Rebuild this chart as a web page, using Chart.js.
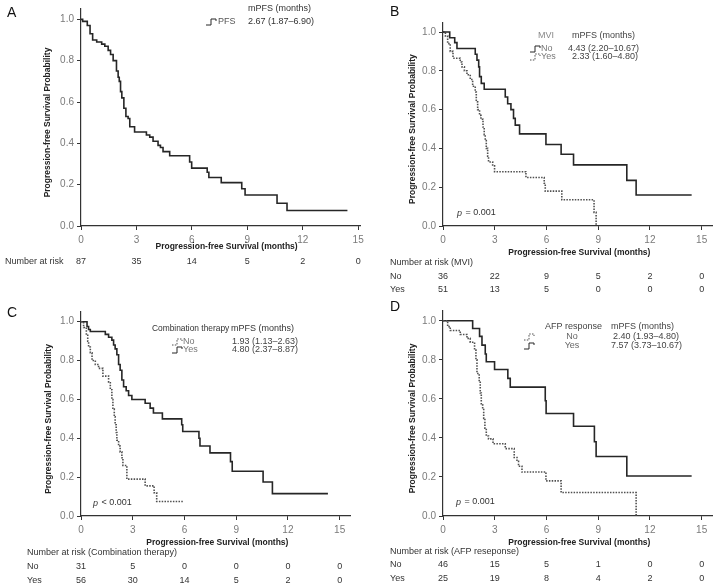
<!DOCTYPE html>
<html>
<head>
  <title>PFS Kaplan-Meier panels</title>
  <style>
    body { margin: 0; background: #fff; }
    #wrap { position: relative; width: 720px; height: 587px; overflow: hidden; }
    canvas { position: absolute; }
  </style>
</head>
<body>
  <div id="wrap">
    <canvas id="chartA" width="380" height="290" style="left:0;top:0"></canvas>
    <canvas id="chartB" width="360" height="296" style="left:360px;top:0"></canvas>
    <canvas id="chartC" width="360" height="297" style="left:0;top:290px"></canvas>
    <canvas id="chartD" width="360" height="297" style="left:360px;top:290px"></canvas>
  </div>

  <script src="https://cdn.jsdelivr.net/npm/chart.js"></script>
  <script>
    // axis ticks
    const xTicks = [0, 3, 6, 9, 12, 15];
    const yTicks = [0, 0.2, 0.4, 0.6, 0.8, 1.0];

    // A: all patients
    const aTime = [0, 0.09, 0.34, 0.49, 0.63, 0.85, 1.12, 1.29, 1.47, 1.6, 1.74, 1.92, 2.01, 2.07, 2.14, 2.21, 2.32, 2.43, 2.55, 2.64, 2.9, 3.54, 3.72, 3.9, 4.17, 4.3, 4.44, 4.8, 5.88, 5.99, 6.83, 6.92, 7.59, 8.7, 8.88, 10.61, 11.15, 14.42];
    const aSurv = [1, 0.99, 0.97, 0.93, 0.90, 0.89, 0.88, 0.87, 0.85, 0.83, 0.80, 0.75, 0.72, 0.70, 0.65, 0.62, 0.57, 0.53, 0.52, 0.48, 0.455, 0.44, 0.43, 0.41, 0.39, 0.38, 0.36, 0.34, 0.31, 0.28, 0.26, 0.235, 0.21, 0.18, 0.15, 0.11, 0.075, 0.075];
    const aRisk = [87, 35, 14, 5, 2, 0];

    // B: MVI
    const bNoTime = [0, 0.39, 0.68, 0.81, 1.87, 1.97, 2.07, 2.12, 2.22, 2.39, 3.61, 3.75, 3.94, 4.09, 4.19, 4.44, 5.97, 6.85, 7.57, 10.66, 11.2, 14.42];
    const bNoSurv = [1, 0.97, 0.945, 0.915, 0.885, 0.855, 0.82, 0.77, 0.735, 0.705, 0.665, 0.63, 0.60, 0.555, 0.52, 0.475, 0.42, 0.37, 0.315, 0.235, 0.16, 0.16];
    const bYesTime = [0, 0.14, 0.27, 0.42, 0.58, 1.0, 1.1, 1.24, 1.39, 1.58, 1.72, 1.87, 1.93, 2.01, 2.12, 2.2, 2.32, 2.39, 2.45, 2.51, 2.59, 2.64, 2.88, 2.99, 4.81, 5.87, 5.93, 6.89, 8.76, 8.88];
    const bYesSurv = [1, 0.98, 0.94, 0.90, 0.865, 0.845, 0.82, 0.80, 0.78, 0.755, 0.72, 0.69, 0.64, 0.60, 0.57, 0.55, 0.51, 0.47, 0.44, 0.40, 0.36, 0.33, 0.31, 0.28, 0.25, 0.22, 0.18, 0.135, 0.07, 0];
    const bRiskNo = [36, 22, 9, 5, 2, 0];
    const bRiskYes = [51, 13, 5, 0, 0, 0];

    // C: combination therapy
    const cNoTime = [0, 0.15, 0.31, 0.39, 0.44, 0.54, 0.64, 0.83, 1.02, 1.27, 1.6, 1.7, 1.79, 1.85, 1.93, 1.98, 2.04, 2.08, 2.18, 2.27, 2.37, 2.43, 2.66, 3.72, 4.24, 4.39, 5.95];
    const cNoSurv = [1, 0.97, 0.93, 0.90, 0.87, 0.84, 0.80, 0.78, 0.76, 0.72, 0.69, 0.65, 0.60, 0.55, 0.51, 0.47, 0.43, 0.39, 0.36, 0.33, 0.30, 0.26, 0.19, 0.155, 0.12, 0.075, 0.075];
    const cYesTime = [0, 0.35, 0.44, 0.54, 1.41, 1.6, 1.79, 1.89, 1.98, 2.08, 2.18, 2.27, 2.37, 2.47, 2.62, 2.76, 2.95, 3.72, 4.01, 4.2, 4.72, 5.84, 5.9, 6.84, 6.9, 7.48, 8.67, 8.77, 10.56, 11.1, 14.32];
    const cYesSurv = [1, 0.975, 0.96, 0.95, 0.935, 0.92, 0.905, 0.88, 0.86, 0.83, 0.78, 0.75, 0.70, 0.665, 0.645, 0.62, 0.60, 0.58, 0.555, 0.53, 0.50, 0.47, 0.435, 0.40, 0.36, 0.325, 0.28, 0.23, 0.175, 0.115, 0.115];
    const cRiskNo = [31, 5, 0, 0, 0, 0];
    const cRiskYes = [56, 30, 14, 5, 2, 0];

    // D: AFP response
    const dNoTime = [0, 0.27, 0.42, 1.0, 1.39, 1.58, 1.83, 1.91, 1.97, 2.1, 2.16, 2.22, 2.3, 2.36, 2.43, 2.51, 2.64, 2.9, 3.61, 4.13, 4.29, 4.38, 4.58, 5.97, 6.85, 11.2];
    const dNoSurv = [1, 0.97, 0.95, 0.93, 0.91, 0.89, 0.85, 0.80, 0.73, 0.69, 0.63, 0.57, 0.55, 0.50, 0.45, 0.41, 0.395, 0.37, 0.345, 0.30, 0.28, 0.255, 0.225, 0.18, 0.12, 0];
    const dYesTime = [0, 1.72, 2.12, 2.26, 2.45, 2.51, 2.99, 3.76, 3.9, 5.93, 5.98, 7.57, 8.78, 8.88, 10.66, 14.42];
    const dYesSurv = [1, 0.96, 0.92, 0.875, 0.83, 0.79, 0.75, 0.705, 0.66, 0.59, 0.525, 0.46, 0.38, 0.305, 0.205, 0.205];
    const dRiskNo = [46, 15, 5, 1, 0, 0];
    const dRiskYes = [25, 19, 8, 4, 2, 0];

    const FONT = '"Liberation Sans", Arial, sans-serif';
    const SOLID = { color: '#262626', dash: [] };
    const DOTTED = { color: '#505050', dash: [1.5, 1.3] };

    function pts(t, s) {
      return t.map((v, i) => ({ x: v, y: s[i] }));
    }

    function series(t, s, st) {
      return {
        data: pts(t, s),
        stepped: 'before',
        borderColor: st.color,
        borderDash: st.dash,
        borderWidth: 1.6,
        pointRadius: 0,
        fill: false,
        tension: 0
      };
    }

    function txt(ctx, s, x, y, o) {
      o = o || {};
      ctx.save();
      ctx.font = (o.style || '') + ' ' + (o.size || 9) + 'px ' + FONT;
      ctx.fillStyle = o.color || '#333';
      ctx.textAlign = o.align || 'left';
      ctx.textBaseline = 'middle';
      ctx.translate(x, y);
      if (o.rot) ctx.rotate(o.rot);
      ctx.fillText(s, 0, 0);
      ctx.restore();
    }

    function pval(ctx, rest, x, y) {
      ctx.save();
      ctx.font = 'italic 9px ' + FONT;
      const w = ctx.measureText('p').width;
      ctx.restore();
      txt(ctx, 'p', x, y, { style: 'italic', color: '#333' });
      txt(ctx, rest, x + w + 1, y, { color: '#333' });
    }

    function symbol(ctx, x, y, st) {
      ctx.save();
      ctx.strokeStyle = st.color;
      ctx.setLineDash(st.dash);
      ctx.lineWidth = 1;
      ctx.beginPath();
      ctx.moveTo(x, y + 3);
      ctx.lineTo(x + 5, y + 3);
      ctx.lineTo(x + 5, y - 3);
      ctx.lineTo(x + 10, y - 3);
      ctx.lineTo(x + 10, y - 1);
      ctx.stroke();
      ctx.restore();
    }

    // draws labels, legend and number-at-risk rows
    function decor(p) {
      return {
        id: 'decor',
        afterDraw(chart) {
          const ctx = chart.ctx;
          const xs = chart.scales.x;
          const ca = chart.chartArea;
          txt(ctx, p.letter[0], p.letter[1], p.letter[2], { size: 14, color: '#111' });
          txt(ctx, 'Progression-free Survival Probability', p.yTitleX, (ca.top + ca.bottom) / 2 + 5,
            { style: 'bold', size: 8.5, color: '#222', align: 'center', rot: -Math.PI / 2 });
          txt(ctx, 'Progression-free Survival (months)', (ca.left + xs.getPixelForValue(15)) / 2 + 7, p.xTitleY,
            { style: 'bold', size: 8.5, color: '#222', align: 'center' });
          p.texts.forEach(t => txt(ctx, t[0], t[1], t[2], t[3]));
          p.symbols.forEach(s => symbol(ctx, s[0], s[1], s[2]));
          if (p.pv) pval(ctx, p.pv[0], p.pv[1], p.pv[2]);
          p.risk.forEach(r => {
            if (r.label) txt(ctx, r.label, r.lx, r.y, { size: 9, color: '#333' });
            r.values.forEach((v, i) => {
              txt(ctx, String(v), xs.getPixelForValue(xTicks[i]), r.y, { size: 9, color: '#333', align: 'center' });
            });
          });
        }
      };
    }

    function makeChart(id, datasets, box, p) {
      const cv = document.getElementById(id);
      const W = cv.width, H = cv.height;
      new Chart(cv, {
        type: 'line',
        data: { datasets: datasets },
        options: {
          responsive: false,
          animation: false,
          layout: { padding: { left: 0, top: box.top, right: W - box.right, bottom: 0 } },
          plugins: { legend: { display: false }, tooltip: { enabled: false } },
          scales: {
            x: {
              type: 'linear', min: 0, max: box.xMax,
              afterBuildTicks: s => { s.ticks = xTicks.map(v => ({ value: v })); },
              afterFit: s => { s.height = H - box.bottom; },
              border: { display: true, color: '#333', width: 1.2 },
              grid: { drawOnChartArea: false, drawTicks: true, tickLength: 4, color: '#333', lineWidth: 1 },
              ticks: { color: '#7a7a7a', font: { size: 10, family: FONT }, padding: 4, maxRotation: 0 }
            },
            y: {
              type: 'linear', min: 0, max: 1.05,
              afterBuildTicks: s => { s.ticks = yTicks.map(v => ({ value: v })); },
              afterFit: s => { s.width = box.left; },
              border: { display: true, color: '#333', width: 1.2 },
              grid: { drawOnChartArea: false, drawTicks: true, tickLength: 4, color: '#333', lineWidth: 1 },
              ticks: { color: '#7a7a7a', font: { size: 10, family: FONT }, padding: 3, callback: v => v.toFixed(1) }
            }
          }
        },
        plugins: [decor(p)]
      });
    }

    makeChart('chartA', [series(aTime, aSurv, SOLID)],
      { left: 81, top: 6.5, right: 360, bottom: 226, xMax: 15.1 },
      {
        letter: ['A', 7, 13], yTitleX: 48, xTitleY: 247,
        texts: [
          ['mPFS (months)', 248, 9, { color: '#333' }],
          ['PFS', 218, 22, { color: '#555' }],
          ['2.67 (1.87\u20136.90)', 248, 22, { color: '#333' }]
        ],
        symbols: [[206, 22, SOLID]],
        risk: [{ label: 'Number at risk', lx: 5, y: 262, values: aRisk }]
      });

    makeChart('chartB', [series(bNoTime, bNoSurv, SOLID), series(bYesTime, bYesSurv, DOTTED)],
      { left: 83, top: 22.3, right: 352, bottom: 226, xMax: 15.6 },
      {
        letter: ['B', 30, 12], yTitleX: 53, xTitleY: 253,
        texts: [
          ['MVI', 186, 36, { color: '#888', align: 'center' }],
          ['mPFS (months)', 212, 36, { color: '#444' }],
          ['No', 181, 49, { color: '#777' }],
          ['4.43 (2.20\u201310.67)', 208, 49, { color: '#444' }],
          ['Yes', 181, 57, { color: '#777' }],
          ['2.33 (1.60\u20134.80)', 212, 57, { color: '#444' }]
        ],
        symbols: [[170, 49, SOLID], [170, 57, DOTTED]],
        pv: [' = 0.001', 97, 213],
        risk: [
          { label: 'Number at risk (MVI)', lx: 30, y: 263, values: [] },
          { label: 'No', lx: 30, y: 277, values: bRiskNo },
          { label: 'Yes', lx: 30, y: 290, values: bRiskYes }
        ]
      });

    makeChart('chartC', [series(cNoTime, cNoSurv, DOTTED), series(cYesTime, cYesSurv, SOLID)],
      { left: 81, top: 22, right: 350, bottom: 226, xMax: 15.6 },
      {
        letter: ['C', 7, 23], yTitleX: 49, xTitleY: 253,
        texts: [
          ['Combination therapy', 152, 39, { color: '#333', size: 8.4 }],
          ['mPFS (months)', 231, 39, { color: '#333' }],
          ['No', 183, 52, { color: '#777' }],
          ['1.93 (1.13\u20132.63)', 232, 52, { color: '#444' }],
          ['Yes', 183, 60, { color: '#777' }],
          ['4.80 (2.37\u20138.87)', 232, 60, { color: '#444' }]
        ],
        symbols: [[172, 52, DOTTED], [172, 60, SOLID]],
        pv: [' < 0.001', 93, 213],
        risk: [
          { label: 'Number at risk (Combination therapy)', lx: 27, y: 263, values: [] },
          { label: 'No', lx: 27, y: 277, values: cRiskNo },
          { label: 'Yes', lx: 27, y: 291, values: cRiskYes }
        ]
      });

    makeChart('chartD', [series(dNoTime, dNoSurv, DOTTED), series(dYesTime, dYesSurv, SOLID)],
      { left: 83, top: 21, right: 352, bottom: 226, xMax: 15.6 },
      {
        letter: ['D', 30, 17], yTitleX: 53, xTitleY: 253,
        texts: [
          ['AFP response', 185, 37, { color: '#444' }],
          ['mPFS (months)', 251, 37, { color: '#444' }],
          ['No', 212, 47, { color: '#666', align: 'center' }],
          ['2.40 (1.93\u20134.80)', 253, 47, { color: '#444' }],
          ['Yes', 212, 56, { color: '#666', align: 'center' }],
          ['7.57 (3.73\u201310.67)', 251, 56, { color: '#444' }]
        ],
        symbols: [[164, 47, DOTTED], [164, 56, SOLID]],
        pv: [' = 0.001', 96, 212],
        risk: [
          { label: 'Number at risk (AFP reseponse)', lx: 30, y: 262, values: [] },
          { label: 'No', lx: 30, y: 275, values: dRiskNo },
          { label: 'Yes', lx: 30, y: 289, values: dRiskYes }
        ]
      });
  </script>
</body>
</html>
